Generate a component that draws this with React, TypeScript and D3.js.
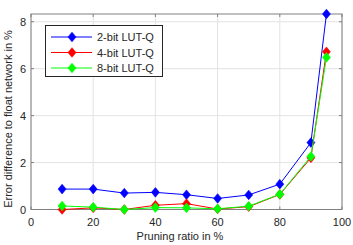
import React from "react";
import * as d3 from "d3";

const pruning = [10, 20, 30, 40, 50, 60, 70, 80, 90, 95];
const bit2 = [0.87, 0.87, 0.7, 0.73, 0.63, 0.47, 0.62, 1.08, 2.85, 8.33];
const bit4 = [0.0, 0.07, 0.0, 0.18, 0.25, 0.02, 0.12, 0.64, 2.2, 6.72];
const bit8 = [0.15, 0.1, 0.0, 0.08, 0.07, 0.03, 0.14, 0.65, 2.26, 6.48];
const seriesNames = ["2-bit LUT-Q", "4-bit LUT-Q", "8-bit LUT-Q"];
const seriesColors = ["#0000ff", "#ff0000", "#00ff00"];
const xTicks = [0, 20, 40, 60, 80, 100];
const yTicks = [0, 2, 4, 6, 8];
const xLabel = "Pruning ratio in %";
const yLabel = "Error difference to float network in %";

const W = 353;
const H = 245;
const left = 31;
const right = 342;
const top = 14;
const bottom = 209.5;
const font = "'Liberation Sans', Arial, Helvetica, sans-serif";

function Diamond({ x, y, color }: { x: number; y: number; color: string }) {
  const w = 4;
  const h = 4.8;
  return (
    <path
      d={`M${x},${y - h}L${x + w},${y}L${x},${y + h}L${x - w},${y}Z`}
      fill={color}
      stroke={color}
      strokeWidth={0.6}
    />
  );
}

export default function App() {
  const x = d3.scaleLinear().domain([0, 100]).range([left, right]);
  const y = d3.scaleLinear().domain([0, 8.33]).range([bottom, top]);
  const series = [bit2, bit4, bit8];
  const line = d3
    .line<number>()
    .x((_, i) => x(pruning[i]))
    .y((d) => y(d));
  const axisColor = "#808080";
  const textColor = "#262626";
  const tickLen = 3;

  // draw order: 2-bit first, then 4-bit, then 8-bit on top
  return (
    <svg
      width={W}
      height={H}
      style={{ position: "absolute", left: 0, top: 0, background: "#fff" }}
      fontFamily={font}
    >
      <rect x={0} y={0} width={W} height={H} fill="#fff" />
      {/* grid */}
      {xTicks.map((t) => (
        <line key={"gx" + t} x1={x(t)} x2={x(t)} y1={top} y2={bottom} stroke="#e3e3e3" strokeWidth={1} />
      ))}
      {yTicks.map((t) => (
        <line key={"gy" + t} x1={left} x2={right} y1={y(t)} y2={y(t)} stroke="#e3e3e3" strokeWidth={1} />
      ))}
      {/* box */}
      <rect x={left} y={top} width={right - left} height={bottom - top} fill="none" stroke={axisColor} strokeWidth={1} />
      {/* ticks */}
      {xTicks.map((t) => (
        <g key={"tx" + t}>
          <line x1={x(t)} x2={x(t)} y1={bottom} y2={bottom - tickLen} stroke={axisColor} />
          <line x1={x(t)} x2={x(t)} y1={top} y2={top + tickLen} stroke={axisColor} />
          <text x={x(t)} y={226} textAnchor="middle" fontSize={11} fill={textColor}>
            {t}
          </text>
        </g>
      ))}
      {yTicks.map((t) => (
        <g key={"ty" + t}>
          <line x1={left} x2={left + tickLen} y1={y(t)} y2={y(t)} stroke={axisColor} />
          <line x1={right} x2={right - tickLen} y1={y(t)} y2={y(t)} stroke={axisColor} />
          <text x={26} y={y(t) + 4} textAnchor="end" fontSize={11} fill={textColor}>
            {t}
          </text>
        </g>
      ))}
      {/* labels */}
      <text x={180} y={240} textAnchor="middle" fontSize={11} fill={textColor}>
        {xLabel}
      </text>
      <text
        transform={`translate(12,${119}) rotate(-90)`}
        textAnchor="middle"
        fontSize={11}
        fill={textColor}
      >
        {yLabel}
      </text>
      {/* series */}
      {series.map((s, si) => (
        <g key={"s" + si}>
          <path d={line(s) || ""} fill="none" stroke={seriesColors[si]} strokeWidth={1} />
          {s.map((v, i) => (
            <Diamond key={i} x={x(pruning[i])} y={y(v)} color={seriesColors[si]} />
          ))}
        </g>
      ))}
      {/* legend */}
      <g>
        <rect x={45.5} y={25.5} width={117} height={51} fill="#fff" stroke={textColor} strokeWidth={1} />
        {seriesNames.map((n, i) => {
          const ly = 37 + i * 15.5;
          return (
            <g key={"l" + i}>
              <line x1={51} x2={92} y1={ly} y2={ly} stroke={seriesColors[i]} strokeWidth={1} />
              <Diamond x={72} y={ly} color={seriesColors[i]} />
              <text x={97} y={ly + 4} fontSize={11} fill={textColor}>
                {n}
              </text>
            </g>
          );
        })}
      </g>
    </svg>
  );
}
